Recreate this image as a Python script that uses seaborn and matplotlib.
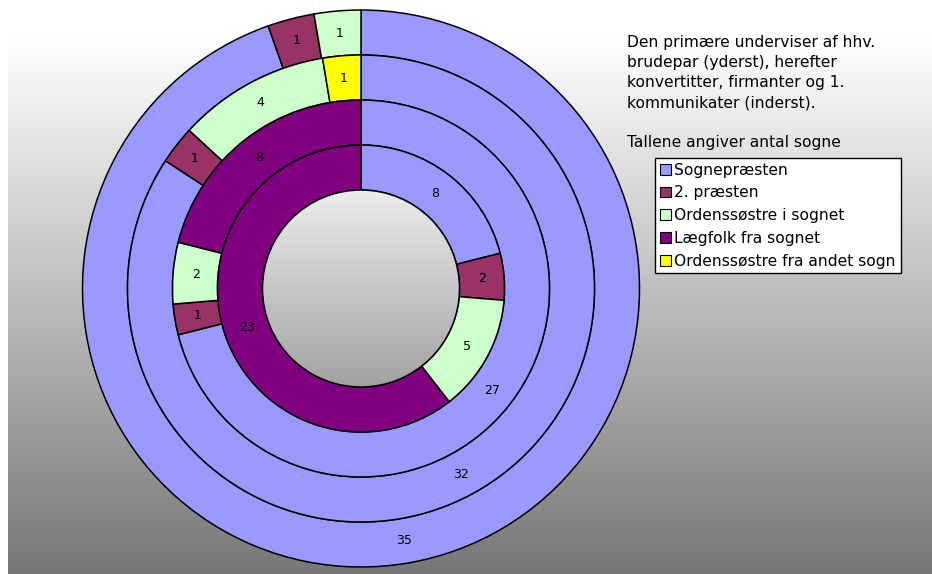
import matplotlib
matplotlib.use("Agg")
import matplotlib.pyplot as plt
from matplotlib.colors import LinearSegmentedColormap
from matplotlib.patches import Patch, Circle
import seaborn as sns
import numpy as np

# --- data (outer ring first) ---
categories = [
    "Sognepræsten",
    "2. præsten",
    "Ordenssøstre i sognet",
    "Lægfolk fra sognet",
    "Ordenssøstre fra andet sogn",
]
brudepar = [35, 1, 1, 0, 0]
konvertitter = [32, 1, 4, 0, 1]
firmanter = [27, 1, 2, 8, 0]
kommunikanter = [8, 2, 5, 23, 0]
rings = [brudepar, konvertitter, firmanter, kommunikanter]

note = ("Den primære underviser af hhv.\nbrudepar (yderst), herefter\n"
        "konvertitter, firmanter og 1.\nkommunikater (inderst).\n\n"
        "Tallene angiver antal sogne")

sns.set_theme(style="white")
plt.rcParams["font.family"] = ["DejaVu Sans"]
plt.rcParams["text.color"] = "black"
colors = sns.color_palette(["#9999FF", "#993366", "#CCFFCC", "#800080", "#FFFF00"])

W, H = 932, 574
fig = plt.figure(figsize=(W / 100, H / 100), dpi=100, facecolor="white")
ax = fig.add_axes([0, 0, 1, 1])

# background gradient (white at top -> grey at bottom)
bg = LinearSegmentedColormap.from_list("bg", ["#ffffff", "#777777"])
ax.imshow(np.linspace(0, 1, 256)[:, None], cmap=bg, extent=[8, W, 0, H - 37],
          aspect="auto", zorder=0)

cx, cy = 361, H - 288.5
outer_r = 278.5
ring_w = 45


def make_pct(vals):
    total = sum(vals)

    def fmt(p):
        v = int(round(p * total / 100.0))
        return str(v) if v > 0 else ""
    return fmt


for i, vals in enumerate(rings):
    r = outer_r - i * ring_w
    keep = [j for j, v in enumerate(vals) if v > 0]
    ax.pie(
        [vals[j] for j in keep],
        colors=[colors[j] for j in keep],
        startangle=90,
        counterclock=False,
        radius=r,
        center=(cx, cy),
        autopct=make_pct([vals[j] for j in keep]),
        pctdistance=(r - ring_w / 2) / r,
        wedgeprops=dict(width=ring_w, edgecolor="black", linewidth=1.1),
        textprops=dict(fontsize=9, color="black"),
        frame=False,
    )

# centre hole with its own gradient
hole_r = outer_r - len(rings) * ring_w
hole = Circle((cx, cy), hole_r, facecolor="none", edgecolor="black",
              linewidth=1.1, zorder=3)
ax.add_patch(hole)
hole_cmap = LinearSegmentedColormap.from_list("hole", ["#ececec", "#a2a2a2"])
im = ax.imshow(np.linspace(0, 1, 256)[:, None], cmap=hole_cmap,
               extent=[cx - hole_r, cx + hole_r, cy - hole_r, cy + hole_r],
               aspect="auto", zorder=2)
im.set_clip_path(hole)

ax.set_xlim(0, W)
ax.set_ylim(0, H)
ax.set_aspect("auto")
ax.axis("off")

fig.text(627 / W, 1 - 35 / H, note, ha="left", va="top", fontsize=11.2,
         linespacing=1.42, color="black")

handles = [Patch(facecolor=c, edgecolor="black", linewidth=0.8) for c in colors]
leg = ax.legend(
    handles, categories,
    loc="upper left",
    bbox_to_anchor=(655 / W, 1 - 158 / H),
    bbox_transform=fig.transFigure,
    frameon=True, fancybox=False, framealpha=1,
    edgecolor="black", facecolor="white",
    fontsize=11.2, borderpad=0.3, borderaxespad=0,
    handlelength=0.7, handleheight=0.7, handletextpad=0.25,
    labelspacing=0.5, labelcolor="black",
)
leg.get_frame().set_linewidth(1.0)

fig.savefig("out.png", dpi=100, facecolor="white")
